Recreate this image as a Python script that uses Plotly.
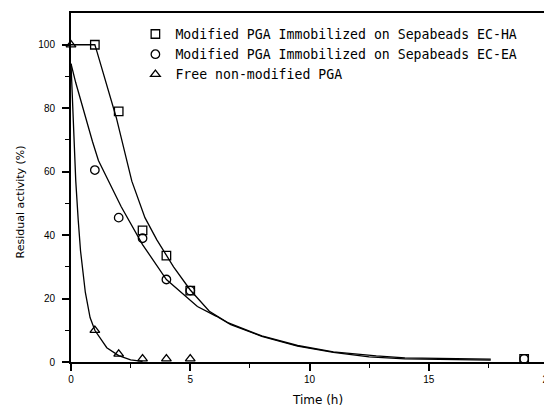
import plotly.graph_objects as go

# Measured data points
time_ha = [1, 2, 3, 4, 5, 19]
act_ha = [100, 79, 41.5, 33.5, 22.5, 1]

time_ea = [1, 2, 3, 4, 5, 19]
act_ea = [60.5, 45.5, 39, 26, 22.5, 1]

time_free = [0, 1, 2, 3, 4, 5]
act_free = [100, 10, 2.5, 1, 1, 1]

# Fitted curves
fit_ha_t = [0, 1, 1.1, 1.6, 1.9, 2.55, 3.1, 3.6, 4.3, 5.0, 5.8, 6.6, 8.0, 9.5, 11, 12.8, 14, 17.6]
fit_ha_y = [100, 100, 97.5, 85, 77, 57, 45.5, 38.5, 30, 22.7, 16, 12.3, 8.2, 5.2, 3.2, 1.9, 1.3, 0.9]

fit_ea_t = [0, 0.2, 0.9, 1.15, 2.1, 3.0, 4.0, 5.3, 6.1, 6.7, 8.0, 9.5, 11, 12.5, 14, 17.6]
fit_ea_y = [94, 88, 69.5, 63.5, 49, 37, 26, 17.5, 14.4, 11.8, 8.1, 5, 3, 1.6, 1, 0.6]

fit_free_t = [0, 0.1, 0.2, 0.3, 0.4, 0.6, 0.8, 1.0, 1.5, 2.0, 2.5, 3.0]
fit_free_y = [94, 73, 57, 45, 35, 22, 14, 10, 4.5, 2, 0.7, 0.2]

x_ticks = [0, 5, 10, 15, 20]
y_ticks = [0, 20, 40, 60, 80, 100]

names = [
    "Modified PGA Immobilized on Sepabeads EC-HA",
    "Modified PGA Immobilized on Sepabeads EC-EA",
    "Free non-modified PGA",
]

line_style = dict(color="black", width=1.3)
fig = go.Figure()

for t, y in [(fit_ha_t, fit_ha_y), (fit_ea_t, fit_ea_y), (fit_free_t, fit_free_y)]:
    fig.add_trace(go.Scatter(x=t, y=y, mode="lines", line=line_style,
                             showlegend=False, hoverinfo="skip", cliponaxis=False))

for t, y, sym, nm in [(time_ha, act_ha, "square-open", names[0]),
                      (time_ea, act_ea, "circle-open", names[1]),
                      (time_free, act_free, "triangle-up-open", names[2])]:
    fig.add_trace(go.Scatter(
        x=t, y=y, mode="markers", name=nm, cliponaxis=False,
        marker=dict(symbol=sym, size=8.5, color="black",
                    line=dict(color="black", width=1.3)),
    ))

axis_common = dict(
    showgrid=False, zeroline=False, showline=True, linecolor="black",
    linewidth=2, mirror=True, ticks="outside", ticklen=7, tickwidth=1.5,
    tickcolor="black", ticklabeloverflow="allow",
    tickfont=dict(family="Liberation Sans", size=10, color="black"),
)

fig.update_xaxes(range=[0, 20], tickvals=x_ticks, ticktext=[str(v) for v in x_ticks],
                 minor=dict(ticks="outside", ticklen=4, tickwidth=1.2, tickcolor="black",
                            tickvals=[2.5, 7.5, 12.5, 17.5]),
                 **axis_common)
fig.update_yaxes(range=[0, 110], tickvals=y_ticks, ticktext=[str(v) for v in y_ticks],
                 ticklabelstandoff=5,
                 minor=dict(ticks="outside", ticklen=4, tickwidth=1.2, tickcolor="black",
                            tickvals=[10, 30, 50, 70, 90]),
                 **axis_common)

fig.add_annotation(text="Time (h)", xref="paper", yref="paper",
                   x=0.516, y=-0.108, xanchor="center", yanchor="middle",
                   showarrow=False,
                   font=dict(family="DejaVu Sans", size=12, color="black"))
fig.add_annotation(text="Residual activity (%)", xref="paper", yref="paper",
                   x=-0.107, y=0.46, xanchor="center", yanchor="middle",
                   textangle=-90, showarrow=False,
                   font=dict(family="DejaVu Sans", size=11, color="black"))

# The page body adds an 8 px offset; margins place the plot where the reference has it.
fig.update_layout(
    width=552, height=409,
    margin=dict(l=63, r=12, t=3, b=55),
    paper_bgcolor="white", plot_bgcolor="white",
    legend=dict(x=0.135, y=0.983, xanchor="left", yanchor="top",
                font=dict(family="DejaVu Sans Mono", size=13.2, color="black"),
                bgcolor="rgba(0,0,0,0)", tracegroupgap=0),
    showlegend=True,
)

fig.write_html("out.html")
